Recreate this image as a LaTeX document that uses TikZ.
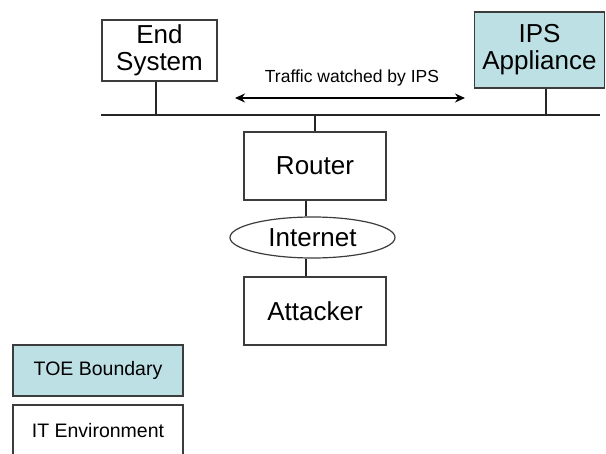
\documentclass[tikz,border=0pt]{standalone}
\usepackage{fontspec}
\setmainfont{Liberation Sans}
\usetikzlibrary{shapes.geometric,arrows.meta}
\definecolor{toefill}{HTML}{BCE0E4}
\definecolor{edge}{HTML}{3C3C3C}
\tikzset{
  box/.style={draw=edge, line width=1.4pt, fill=white, align=center, inner sep=0pt,
    font=\fontsize{26}{27}\selectfont},
  toebox/.style={box, fill=toefill},
  legbox/.style={draw=edge, line width=1.4pt, inner sep=0pt, font=\fontsize{19.5}{21}\selectfont},
  wire/.style={draw=black!85, line width=1.4pt}
}
\begin{document}
\begin{tikzpicture}[x=1pt,y=-1pt]
\useasboundingbox (0,0) rectangle (606,454);
\node[box, minimum width=115pt, minimum height=61pt] (es) at (159.5,50.5) {End\\System};
\node[toebox, minimum width=130pt, minimum height=76pt] (ips) at (539.5,50) {IPS\\Appliance};
\coordinate (busL) at (101,115);
\coordinate (busR) at (600,115);
\draw[wire] (busL) -- (busR);
\draw[wire] ([xshift=-3.5pt]es.south) -- ([xshift=-3.5pt]es.south |- busL);
\draw[wire] ([xshift=6.5pt]ips.south) -- ([xshift=6.5pt]ips.south |- busL);
\node[font=\fontsize{17.5}{19}\selectfont] (tlabel) at (352,78) {Traffic watched by IPS};
\coordinate (aL) at (235,98);
\coordinate (aR) at (465,98);
\draw[line width=1.4pt, {Stealth[length=10pt,width=9pt]}-{Stealth[length=10pt,width=9pt]}] (aL) -- (aR);
\node[box, minimum width=142pt, minimum height=68pt] (router) at (315,166) {Router};
\draw[wire] (router.north) -- (router.north |- busL);
\node[draw=edge, line width=1.2pt, ellipse, minimum width=165pt, minimum height=41pt, inner sep=0pt,
  font=\fontsize{26}{27}\selectfont] (inet) at (312.5,237.5) {Internet};
\node[box, minimum width=142pt, minimum height=68pt] (att) at (315,311) {Attacker};
\draw[wire] ([xshift=-9pt]router.south) -- ([xshift=-9pt]router.south |- inet.north);
\draw[wire] ([xshift=-6.5pt]inet.south) -- ([xshift=-6.5pt]inet.south |- att.north);
\node[legbox, fill=toefill, minimum width=170pt, minimum height=51pt] (legtoe) at (98,370.5) {TOE Boundary};
\node[legbox, fill=white, minimum width=170pt, minimum height=52pt] (legit) at (98,431) {IT Environment};
\end{tikzpicture}
\end{document}
